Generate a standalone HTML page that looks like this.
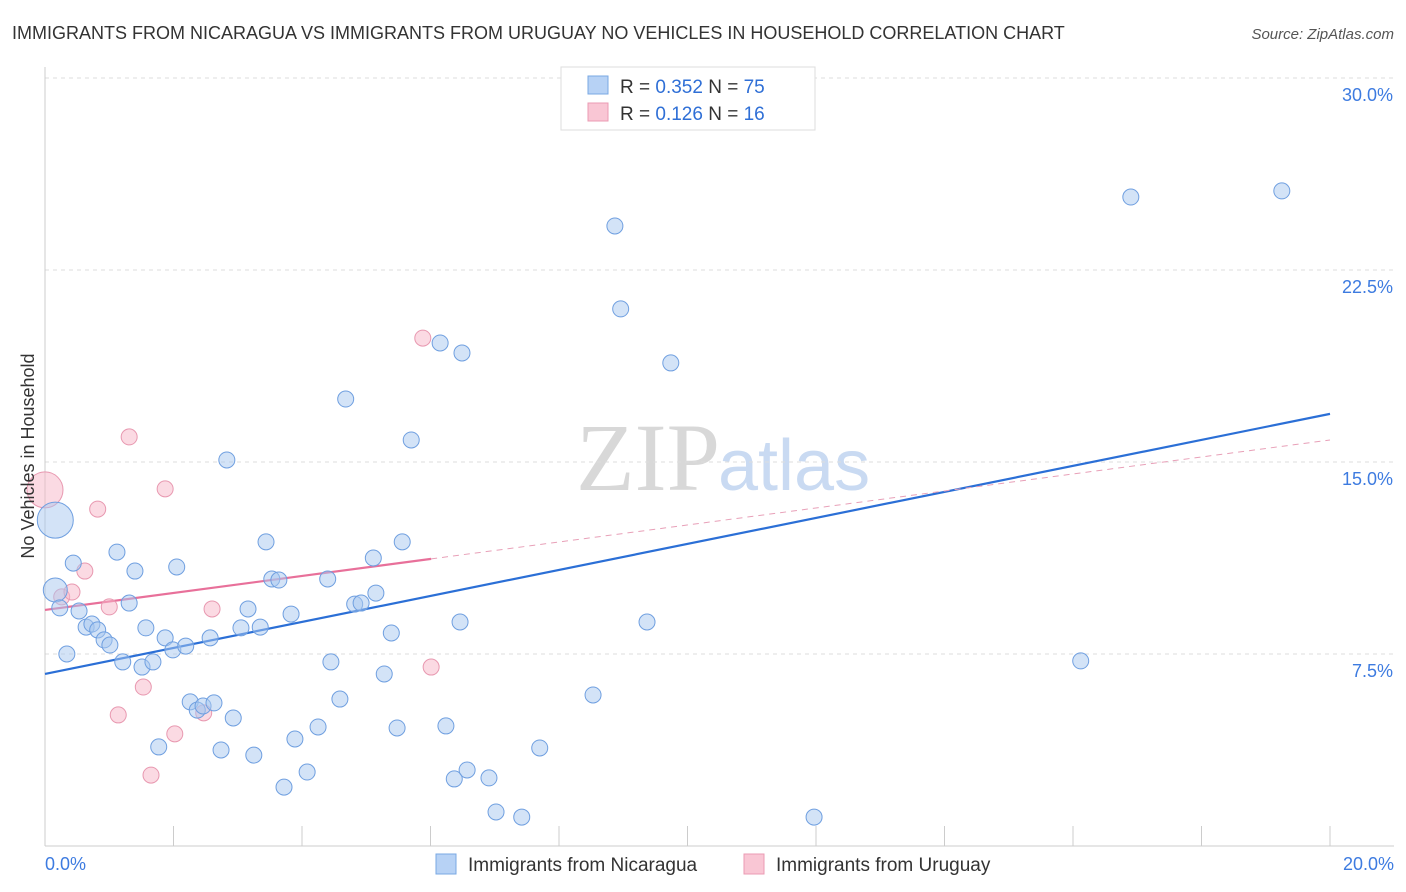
<!DOCTYPE html>
<html><head><meta charset="utf-8"><style>
body{margin:0;background:#fff;font-family:"Liberation Sans",sans-serif}
svg{display:block}
</style></head><body>
<svg id="chart" width="1406" height="892" xmlns="http://www.w3.org/2000/svg" font-family="Liberation Sans, sans-serif">
<text x="12" y="39" font-size="18" fill="#333">IMMIGRANTS FROM NICARAGUA VS IMMIGRANTS FROM URUGUAY NO VEHICLES IN HOUSEHOLD CORRELATION CHART</text>
<text x="1394" y="39" font-size="15" fill="#555" font-style="italic" text-anchor="end">Source: ZipAtlas.com</text>
<text x="720" y="490" font-size="96" fill="#d8d8d8" text-anchor="end" font-family="Liberation Serif, serif">ZIP</text>
<text x="718" y="490" font-size="72" fill="#c9daf2">atlas</text>
<g id="grid"></g>
<g id="axes"></g>
<g id="lines"></g>
<g id="points"></g>
<text x="34" y="456" font-size="18" fill="#333" text-anchor="middle" transform="rotate(-90 34 456)">No Vehicles in Household</text>
<g>
<rect x="561" y="67" width="254" height="63" fill="#fff" stroke="#ddd"/>
<rect x="588" y="76" width="20" height="18" fill="#b7d2f5" stroke="#7aa8e3"/>
<text x="620" y="93" font-size="19" fill="#333">R = <tspan fill="#2f6fd6">0.352</tspan>   N = <tspan fill="#2f6fd6">75</tspan></text>
<rect x="588" y="103" width="20" height="18" fill="#f9c6d4" stroke="#eb9bb3"/>
<text x="620" y="120" font-size="19" fill="#333">R =  <tspan fill="#2f6fd6">0.126</tspan>   N =  <tspan fill="#2f6fd6">16</tspan></text>
</g>
<g>
<rect x="436" y="854" width="20" height="20" fill="#b7d2f5" stroke="#7aa8e3"/>
<text x="468" y="871" font-size="19" fill="#333">Immigrants from Nicaragua</text>
<rect x="744" y="854" width="20" height="20" fill="#f9c6d4" stroke="#eb9bb3"/>
<text x="776" y="871" font-size="19" fill="#333">Immigrants from Uruguay</text>
</g>
</svg>
<script>
const blueX=[0.16,0.16,0.23,0.34,0.44,0.53,0.64,0.73,0.82,0.92,1.01,1.12,1.21,1.31,1.40,1.51,1.57,1.68,1.77,1.87,1.99,2.05,2.19,2.26,2.37,2.46,2.57,2.63,2.74,2.83,2.93,3.05,3.16,3.25,3.35,3.44,3.53,3.64,3.72,3.83,3.89,4.08,4.25,4.40,4.45,4.59,4.68,4.82,4.92,5.11,5.15,5.28,5.39,5.48,5.56,5.70,6.15,6.24,6.37,6.46,6.49,6.57,6.91,7.02,7.42,7.70,8.53,8.87,8.96,9.37,9.74,11.97,16.12,16.90,19.25];
const blueY=[12.73,10.0,9.30,7.5,11.05,9.18,8.55,8.67,8.44,8.05,7.85,11.48,7.19,9.49,10.74,6.99,8.52,7.19,3.87,8.13,7.66,10.90,7.81,5.63,5.31,5.47,8.13,5.59,3.75,15.08,5.0,8.52,9.26,3.55,8.55,11.88,10.43,10.39,2.30,9.06,4.18,2.89,4.65,10.43,7.19,5.74,17.46,9.45,9.49,11.25,9.88,6.72,8.32,4.61,11.88,15.86,19.65,4.69,2.62,8.75,19.26,2.97,2.66,1.33,1.13,3.83,5.90,24.22,20.98,8.75,18.87,1.13,7.23,25.35,25.59];
const blueR=[18,12];
const pinkX=[0,0.26,0.42,0.62,0.82,1.0,1.14,1.31,1.53,1.65,1.87,2.02,2.47,2.60,5.88,6.01];
const pinkY=[13.91,9.73,9.92,10.74,13.16,9.34,5.12,15.98,6.21,2.77,13.95,4.38,5.20,9.26,19.84,6.99];
const pinkR=[18];
const blueFit=[6.72,16.88];
const pinkFit=[9.22,15.86];
const yTicks=[7.5,15.0,22.5,30.0];
const xTicks=[0,2,4,6,8,10,12,14,16,18,20];
const NS="http://www.w3.org/2000/svg";
const sx=v=>45+v*64.25, sy=v=>846-v*25.6;
function mk(tag,attrs,parent){const e=document.createElementNS(NS,tag);for(const k in attrs)e.setAttribute(k,attrs[k]);document.getElementById(parent).appendChild(e);return e;}
yTicks.forEach(t=>{
 const l=mk('line',{x1:45,x2:1394,y1:sy(t),y2:sy(t),stroke:'#ddd','stroke-dasharray':'4,4'},'grid');
 
 
 const tx=mk('text',{x:1393,y:sy(t)+23,'font-size':18,fill:'#3d7be0','text-anchor':'end'},'grid');
 tx.textContent=t.toFixed(1)+'%';
 
 
});
const ax=mk('line',{x1:45,x2:1394,y1:846,y2:846,stroke:'#ccc'},'axes');


const ay=mk('line',{x1:45,x2:45,y1:67,y2:846,stroke:'#ccc'},'axes');


xTicks.forEach(t=>{
 const l=mk('line',{x1:sx(t),x2:sx(t),y1:826,y2:846,stroke:'#ccc'},'axes');
 
 
});
[[0,'0.0%','start',45],[20,'20.0%','end',1394]].forEach(a=>{
 const tx=mk('text',{x:a[3],y:870,'font-size':18,fill:'#3d7be0','text-anchor':a[2]},'axes');
 tx.textContent=a[1];
 
 
});
function pts(X,Y,R,fill,stroke,name){X.forEach((x,i)=>{
 const c=mk('circle',{cx:sx(x),cy:sy(Y[i]),r:R[i]||8,fill:fill,'fill-opacity':0.5,stroke:stroke,'stroke-width':1},'points');
 
 
});}
const bl=mk('line',{x1:sx(0),y1:sy(blueFit[0]),x2:sx(20),y2:sy(blueFit[1]),stroke:'#2b6fd6','stroke-width':2.2},'lines');


const pe=6.01, py=pinkFit[0]+(pinkFit[1]-pinkFit[0])*pe/20;
const pl=mk('line',{x1:sx(0),y1:sy(pinkFit[0]),x2:sx(pe),y2:sy(py),stroke:'#e8709a','stroke-width':2.2},'lines');


const pd=mk('line',{x1:sx(pe),y1:sy(py),x2:sx(20),y2:sy(pinkFit[1]),stroke:'#e8a0b8','stroke-width':1,'stroke-dasharray':'6,5'},'lines');


pts(pinkX,pinkY,pinkR,'#f7b6c8','#e898b0','uruguay-point');
pts(blueX,blueY,blueR,'#a8c8f0','#6f9fe0','nicaragua-point');
</script>
</body></html>
